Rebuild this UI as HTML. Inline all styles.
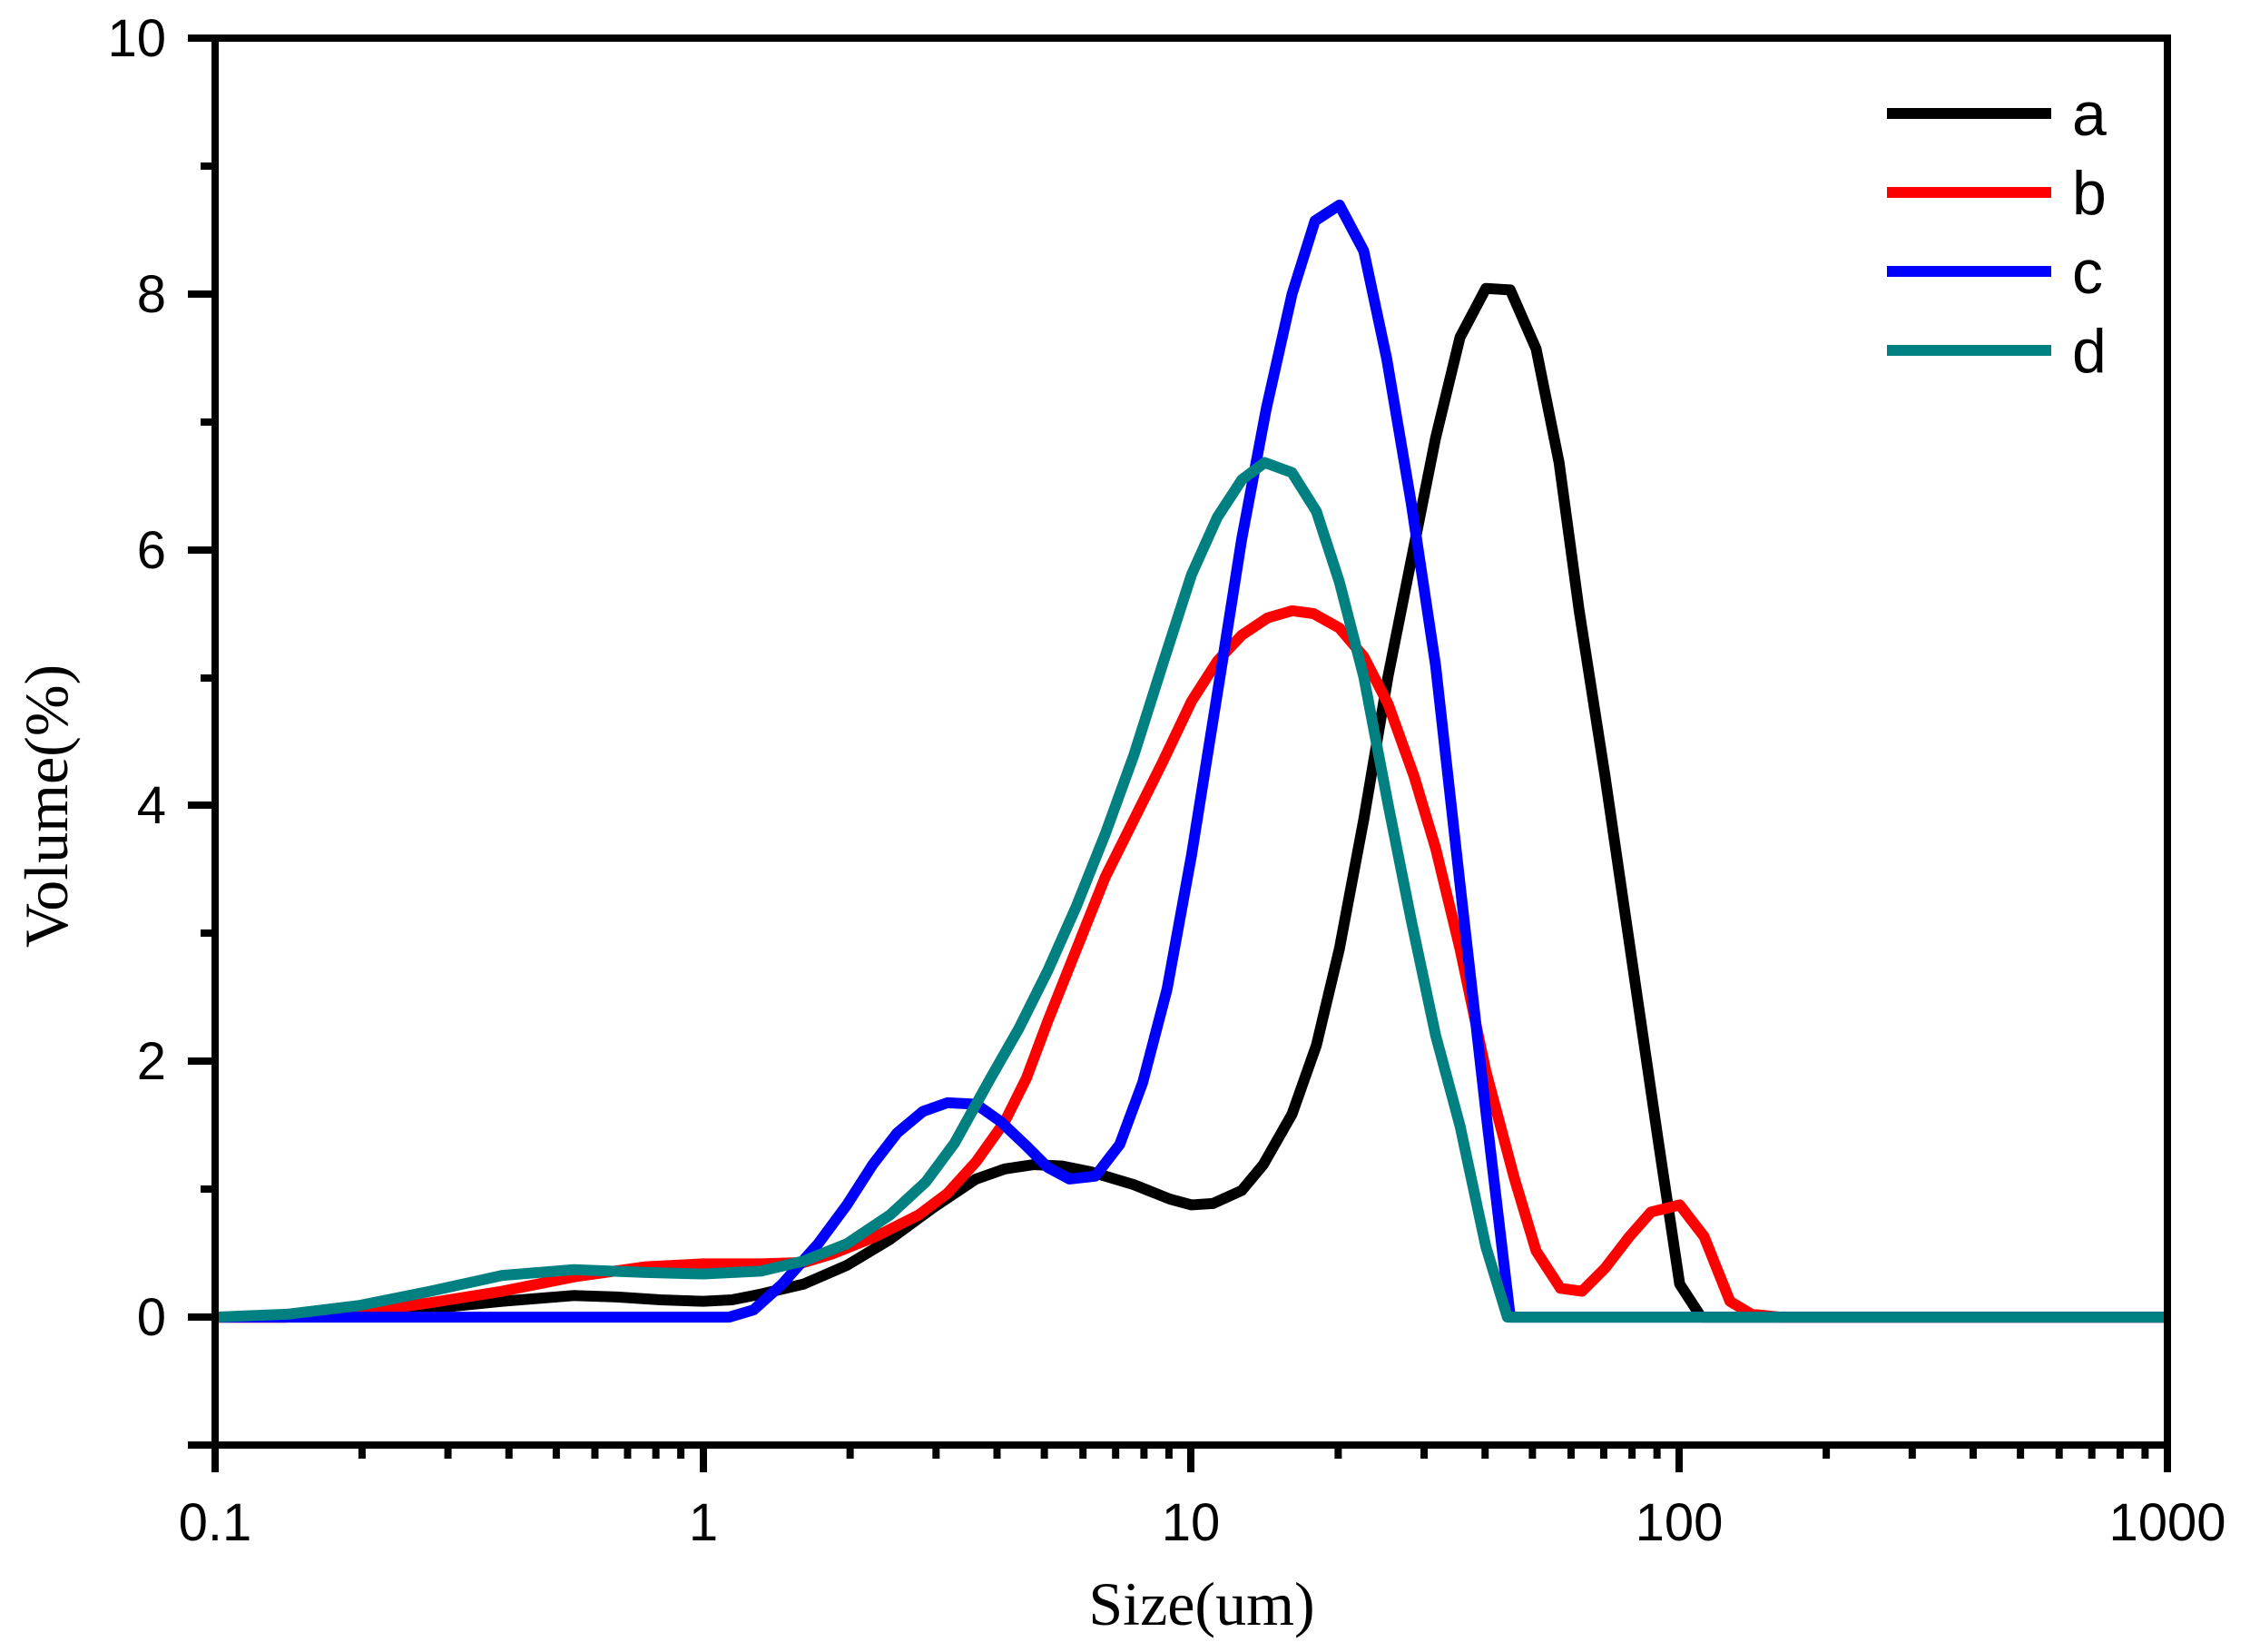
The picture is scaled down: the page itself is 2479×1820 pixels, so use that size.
<!DOCTYPE html>
<html><head><meta charset="utf-8"><style>html,body{margin:0;padding:0;background:#fff}svg{display:block}</style></head>
<body>
<svg width="2479" height="1820" viewBox="0 0 2479 1820" xmlns="http://www.w3.org/2000/svg">
<rect width="2479" height="1820" fill="#fff"/>
<g fill="none" stroke-linejoin="round" stroke-width="12" transform="translate(237,42) scale(1.582,1.585) translate(-150,-27)">
<polyline vector-effect="non-scaling-stroke" stroke="#000" points="150,916 200,916 250,914 300,910 350,905 400,901 430,902 460,904 490,905 510,904 530,900 560,893 590,880 620,862 650,840 680,820 700,813 720,810 740,811 760,815 790,824 815,834 830,838 845,837 865,828 880,810 900,775 917,727 933,660 950,570 967,470 983,390 1000,305 1017,235 1035,201 1052,202 1070,243 1086,322 1100,425 1118,540 1137,670 1155,793 1170,893 1185,916 1510,916"/>
<polyline vector-effect="non-scaling-stroke" stroke="#f00" points="150,916 200,916 250,913 300,906 350,898 400,888 450,881 490,879 530,879 560,878 580,872 610,860 640,845 660,830 680,808 700,780 715,750 730,710 750,660 770,610 790,570 810,530 830,488 848,460 865,442 883,430 900,425 915,427 933,437 950,457 967,490 985,540 1000,590 1017,660 1035,745 1055,820 1070,870 1087,896 1102,898 1118,882 1135,860 1150,843 1170,838 1187,860 1205,905 1220,914 1240,916 1510,916"/>
<polyline vector-effect="non-scaling-stroke" stroke="#00f" points="150,916 508,916 525,911 545,893 570,865 590,838 608,810 625,788 643,773 660,767 680,768 697,780 715,797 730,812 745,820 763,818 780,796 796,753 813,688 830,595 850,470 865,375 882,285 900,205 916,154 933,143 950,175 966,250 983,350 1000,463 1017,615 1035,773 1052,916 1510,916"/>
<polyline vector-effect="non-scaling-stroke" stroke="#008080" points="150,916 200,914 250,908 300,898 350,887 400,883 450,885 490,886 530,884 560,877 590,865 620,845 645,822 665,795 690,750 710,715 730,675 750,630 770,580 790,525 810,462 830,400 848,360 865,334 881,322 900,329 917,356 933,405 950,471 967,560 983,640 1000,720 1017,783 1035,867 1050,916 1510,916"/>
</g>
<rect x="237" y="42" width="2151" height="1550" fill="none" stroke="#000" stroke-width="8"/>
<g stroke="#000" stroke-width="8">
<line x1="207" y1="42" x2="237" y2="42"/><line x1="207" y1="324" x2="237" y2="324"/><line x1="207" y1="606" x2="237" y2="606"/><line x1="207" y1="887" x2="237" y2="887"/><line x1="207" y1="1169" x2="237" y2="1169"/><line x1="207" y1="1451" x2="237" y2="1451"/><line x1="207" y1="1592" x2="237" y2="1592"/>
<line x1="221" y1="183" x2="237" y2="183"/><line x1="221" y1="465" x2="237" y2="465"/><line x1="221" y1="747" x2="237" y2="747"/><line x1="221" y1="1028" x2="237" y2="1028"/><line x1="221" y1="1310" x2="237" y2="1310"/>
<line x1="237" y1="1592" x2="237" y2="1622"/><line x1="775" y1="1592" x2="775" y2="1622"/><line x1="1312" y1="1592" x2="1312" y2="1622"/><line x1="1850" y1="1592" x2="1850" y2="1622"/><line x1="2388" y1="1592" x2="2388" y2="1622"/>
</g>
<g id="minor" stroke="#000" stroke-width="8"></g>
<script>
var g=document.getElementById('minor');
for(var d=0;d<4;d++){for(var k=2;k<10;k++){var x=237+537.75*(d+Math.log10(k));var l=document.createElementNS('http://www.w3.org/2000/svg','line');l.setAttribute('x1',x);l.setAttribute('x2',x);l.setAttribute('y1',1592);l.setAttribute('y2',1607);g.appendChild(l);}}
</script>
<g font-family="Liberation Sans, Arial, sans-serif" font-size="58" fill="#000">
<text x="183" y="62" text-anchor="end">10</text>
<text x="183" y="344" text-anchor="end">8</text>
<text x="183" y="626" text-anchor="end">6</text>
<text x="183" y="907" text-anchor="end">4</text>
<text x="183" y="1189" text-anchor="end">2</text>
<text x="183" y="1471" text-anchor="end">0</text>
<text x="237" y="1697" text-anchor="middle">0.1</text>
<text x="775" y="1697" text-anchor="middle">1</text>
<text x="1312" y="1697" text-anchor="middle">10</text>
<text x="1850" y="1697" text-anchor="middle">100</text>
<text x="2388" y="1697" text-anchor="middle">1000</text>
</g>
<g stroke-width="12">
<line x1="2079" y1="125" x2="2260" y2="125" stroke="#000"/>
<line x1="2079" y1="212" x2="2260" y2="212" stroke="#f00"/>
<line x1="2079" y1="299" x2="2260" y2="299" stroke="#00f"/>
<line x1="2079" y1="386" x2="2260" y2="386" stroke="#008080"/>
</g>
<g font-family="Liberation Sans, Arial, sans-serif" font-size="68" fill="#000">
<text x="2283" y="149">a</text><text x="2283" y="236">b</text><text x="2283" y="323">c</text><text x="2283" y="410">d</text>
</g>
<text x="1324" y="1790" text-anchor="middle" font-family="Liberation Serif, serif" font-size="68">Size(um)</text>
<text transform="translate(74,888) rotate(-90)" text-anchor="middle" font-family="Liberation Serif, serif" font-size="68">Volume(%)</text>
</svg>
</body></html>
